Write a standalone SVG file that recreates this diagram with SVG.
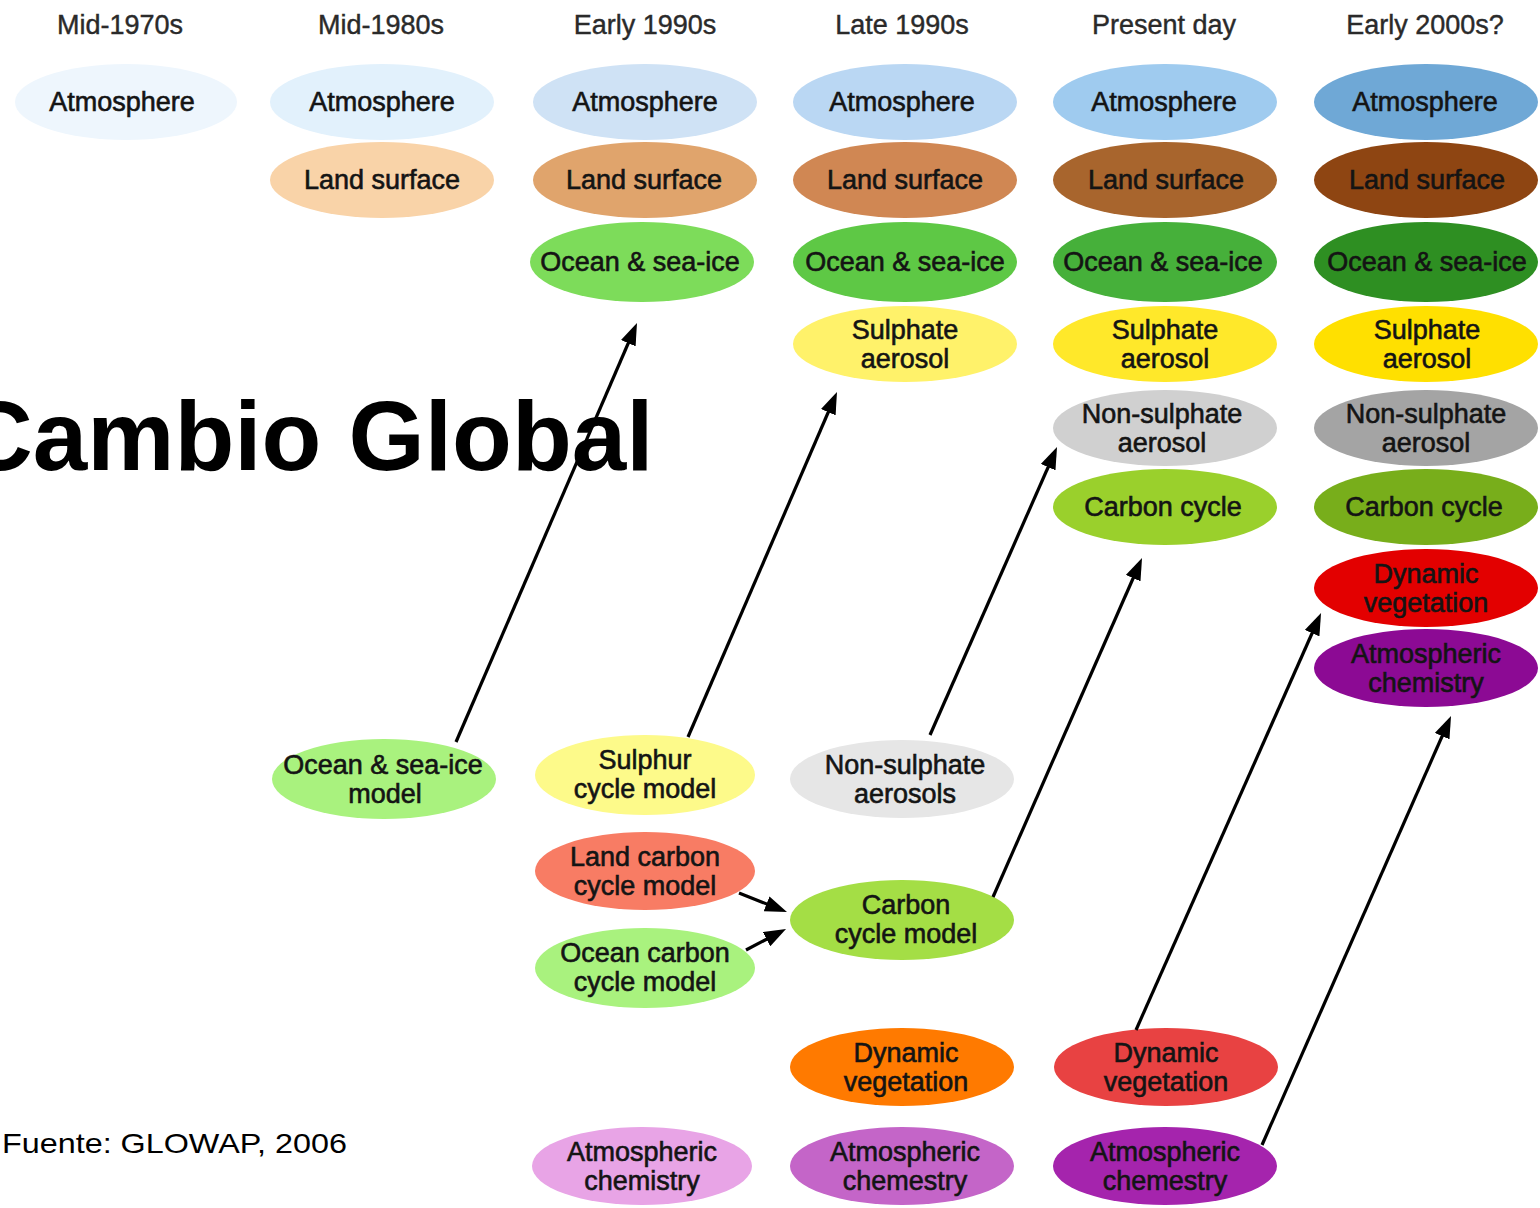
<svg xmlns="http://www.w3.org/2000/svg" width="1540" height="1208" viewBox="0 0 1540 1208">
<defs>
<marker id="ah" viewBox="0 0 22 16" markerWidth="22" markerHeight="16" refX="16" refY="8" orient="auto" markerUnits="userSpaceOnUse">
<path d="M0,0 L22,8 L0,16 Z" fill="#000"/>
</marker>
</defs>
<style>
.hd{font-family:"Liberation Sans",Arial,sans-serif;font-size:27px;fill:#2a2a2a;text-anchor:middle;stroke:#2a2a2a;stroke-width:0.4}
.lb{font-family:"Liberation Sans",Arial,sans-serif;font-size:27px;fill:#141414;text-anchor:middle;stroke:#141414;stroke-width:0.6}
.cn{stroke:#000;stroke-width:3.2;fill:none;marker-end:url(#ah)}
.title{font-family:"Liberation Sans",Arial,sans-serif;font-size:98px;font-weight:bold;fill:#000}
.src{font-family:"Liberation Sans",Arial,sans-serif;font-size:28px;fill:#000}
</style>
<rect width="1540" height="1208" fill="#fff"/>

<g id="headers">
<text class="hd" x="120" y="34">Mid-1970s</text>
<text class="hd" x="381" y="34">Mid-1980s</text>
<text class="hd" x="645" y="34">Early 1990s</text>
<text class="hd" x="902" y="34">Late 1990s</text>
<text class="hd" x="1164" y="34">Present day</text>
<text class="hd" x="1425" y="34">Early 2000s?</text>
</g>

<g id="n-atm-1"><ellipse cx="126" cy="102" rx="111" ry="38" fill="#eef6fd"/><text class="lb" x="122" y="111">Atmosphere</text></g>
<g id="n-atm-2"><ellipse cx="382" cy="102" rx="112" ry="38" fill="#e2f1fc"/><text class="lb" x="382" y="111">Atmosphere</text></g>
<g id="n-atm-3"><ellipse cx="645" cy="102" rx="112" ry="38" fill="#cfe2f5"/><text class="lb" x="645" y="111">Atmosphere</text></g>
<g id="n-atm-4"><ellipse cx="905" cy="102" rx="112" ry="38" fill="#bad7f3"/><text class="lb" x="902" y="111">Atmosphere</text></g>
<g id="n-atm-5"><ellipse cx="1165" cy="102" rx="112" ry="38" fill="#9fcbef"/><text class="lb" x="1164" y="111">Atmosphere</text></g>
<g id="n-atm-6"><ellipse cx="1426" cy="102" rx="112" ry="38" fill="#6fa8d6"/><text class="lb" x="1425" y="111">Atmosphere</text></g>

<g id="n-land-2"><ellipse cx="382" cy="180" rx="112" ry="38" fill="#f9d3a8"/><text class="lb" x="382" y="189">Land surface</text></g>
<g id="n-land-3"><ellipse cx="645" cy="180" rx="112" ry="38" fill="#e0a46c"/><text class="lb" x="644" y="189">Land surface</text></g>
<g id="n-land-4"><ellipse cx="905" cy="180" rx="112" ry="38" fill="#d08753"/><text class="lb" x="905" y="189">Land surface</text></g>
<g id="n-land-5"><ellipse cx="1165" cy="180" rx="112" ry="38" fill="#a8652d"/><text class="lb" x="1166" y="189">Land surface</text></g>
<g id="n-land-6"><ellipse cx="1426" cy="180" rx="112" ry="38" fill="#8e4512"/><text class="lb" x="1427" y="189">Land surface</text></g>

<g id="n-ocean-3"><ellipse cx="642" cy="262" rx="112" ry="40" fill="#7ddc5a"/><text class="lb" x="640" y="271">Ocean &amp; sea-ice</text></g>
<g id="n-ocean-4"><ellipse cx="905" cy="262" rx="112" ry="40" fill="#5ec845"/><text class="lb" x="905" y="271">Ocean &amp; sea-ice</text></g>
<g id="n-ocean-5"><ellipse cx="1165" cy="262" rx="112" ry="40" fill="#46b03a"/><text class="lb" x="1163" y="271">Ocean &amp; sea-ice</text></g>
<g id="n-ocean-6"><ellipse cx="1426" cy="262" rx="112" ry="40" fill="#2e8f22"/><text class="lb" x="1427" y="271">Ocean &amp; sea-ice</text></g>

<g id="n-sulph-4"><ellipse cx="905" cy="344" rx="112" ry="38" fill="#fff26a"/><text class="lb" x="905" y="339">Sulphate</text><text class="lb" x="905" y="368">aerosol</text></g>
<g id="n-sulph-5"><ellipse cx="1165" cy="344" rx="112" ry="38" fill="#ffe82a"/><text class="lb" x="1165" y="339">Sulphate</text><text class="lb" x="1165" y="368">aerosol</text></g>
<g id="n-sulph-6"><ellipse cx="1426" cy="344" rx="112" ry="38" fill="#ffe000"/><text class="lb" x="1427" y="339">Sulphate</text><text class="lb" x="1427" y="368">aerosol</text></g>

<g id="n-nons-5"><ellipse cx="1165" cy="428" rx="112" ry="38" fill="#d0d0d0"/><text class="lb" x="1162" y="423">Non-sulphate</text><text class="lb" x="1162" y="452">aerosol</text></g>
<g id="n-nons-6"><ellipse cx="1426" cy="428" rx="112" ry="38" fill="#a4a4a4"/><text class="lb" x="1426" y="423">Non-sulphate</text><text class="lb" x="1426" y="452">aerosol</text></g>

<g id="n-carb-5"><ellipse cx="1165" cy="507" rx="112" ry="38" fill="#9ad02c"/><text class="lb" x="1163" y="516">Carbon cycle</text></g>
<g id="n-carb-6"><ellipse cx="1426" cy="507" rx="112" ry="38" fill="#78ae1b"/><text class="lb" x="1424" y="516">Carbon cycle</text></g>

<g id="n-dyn-6"><ellipse cx="1426" cy="588" rx="112" ry="39" fill="#e30000"/><text class="lb" x="1426" y="583">Dynamic</text><text class="lb" x="1426" y="612">vegetation</text></g>
<g id="n-chem-6"><ellipse cx="1426" cy="668" rx="112" ry="39" fill="#8c0a94"/><text class="lb" x="1426" y="663">Atmospheric</text><text class="lb" x="1426" y="692">chemistry</text></g>

<g id="n-oceanmodel"><ellipse cx="384" cy="779" rx="112" ry="40" fill="#a9f27e"/><text class="lb" x="383" y="774">Ocean &amp; sea-ice</text><text class="lb" x="385" y="803">model</text></g>
<g id="n-sulphurmodel"><ellipse cx="645" cy="775" rx="110" ry="40" fill="#fdfa8a"/><text class="lb" x="645" y="769">Sulphur</text><text class="lb" x="645" y="798">cycle model</text></g>
<g id="n-nonsmodel"><ellipse cx="902" cy="779" rx="112" ry="39" fill="#e6e6e6"/><text class="lb" x="905" y="774">Non-sulphate</text><text class="lb" x="905" y="803">aerosols</text></g>
<g id="n-landcarb"><ellipse cx="645" cy="871" rx="110" ry="39" fill="#f87c64"/><text class="lb" x="645" y="866">Land carbon</text><text class="lb" x="645" y="895">cycle model</text></g>
<g id="n-oceancarb"><ellipse cx="645" cy="968" rx="110" ry="40" fill="#a9f27e"/><text class="lb" x="645" y="962">Ocean carbon</text><text class="lb" x="645" y="991">cycle model</text></g>
<g id="n-carbmodel"><ellipse cx="902" cy="920" rx="112" ry="40" fill="#a4de45"/><text class="lb" x="906" y="914">Carbon</text><text class="lb" x="906" y="943">cycle model</text></g>
<g id="n-dyn-4"><ellipse cx="902" cy="1067" rx="112" ry="39" fill="#ff7a00"/><text class="lb" x="906" y="1062">Dynamic</text><text class="lb" x="906" y="1091">vegetation</text></g>
<g id="n-dyn-5"><ellipse cx="1166" cy="1067" rx="112" ry="39" fill="#e84242"/><text class="lb" x="1166" y="1062">Dynamic</text><text class="lb" x="1166" y="1091">vegetation</text></g>
<g id="n-chem-3"><ellipse cx="642" cy="1166" rx="110" ry="39" fill="#e8a4e6"/><text class="lb" x="642" y="1161">Atmospheric</text><text class="lb" x="642" y="1190">chemistry</text></g>
<g id="n-chem-4"><ellipse cx="902" cy="1166" rx="112" ry="39" fill="#c465c8"/><text class="lb" x="905" y="1161">Atmospheric</text><text class="lb" x="905" y="1190">chemestry</text></g>
<g id="n-chem-5"><ellipse cx="1165" cy="1166" rx="112" ry="39" fill="#a524ad"/><text class="lb" x="1165" y="1161">Atmospheric</text><text class="lb" x="1165" y="1190">chemestry</text></g>

<g id="connectors">
<line class="cn" x1="456" y1="742" x2="634.6" y2="328.5"/>
<line class="cn" x1="688" y1="737" x2="834.6" y2="397.5"/>
<line class="cn" x1="930" y1="735" x2="1054.6" y2="452.5"/>
<line class="cn" x1="993" y1="897" x2="1139.6" y2="563.5"/>
<line class="cn" x1="1136" y1="1030" x2="1318.6" y2="618.5"/>
<line class="cn" x1="1262" y1="1145" x2="1448.6" y2="721.5"/>
<line class="cn" x1="739" y1="893" x2="781.4" y2="909.8"/>
<line class="cn" x1="746" y1="950" x2="780.7" y2="931.8"/>
</g>

<text class="title" x="-38" y="470">Cambio Global</text>
<text class="src" x="2" y="1153" textLength="345" lengthAdjust="spacingAndGlyphs">Fuente: GLOWAP, 2006</text>
</svg>
